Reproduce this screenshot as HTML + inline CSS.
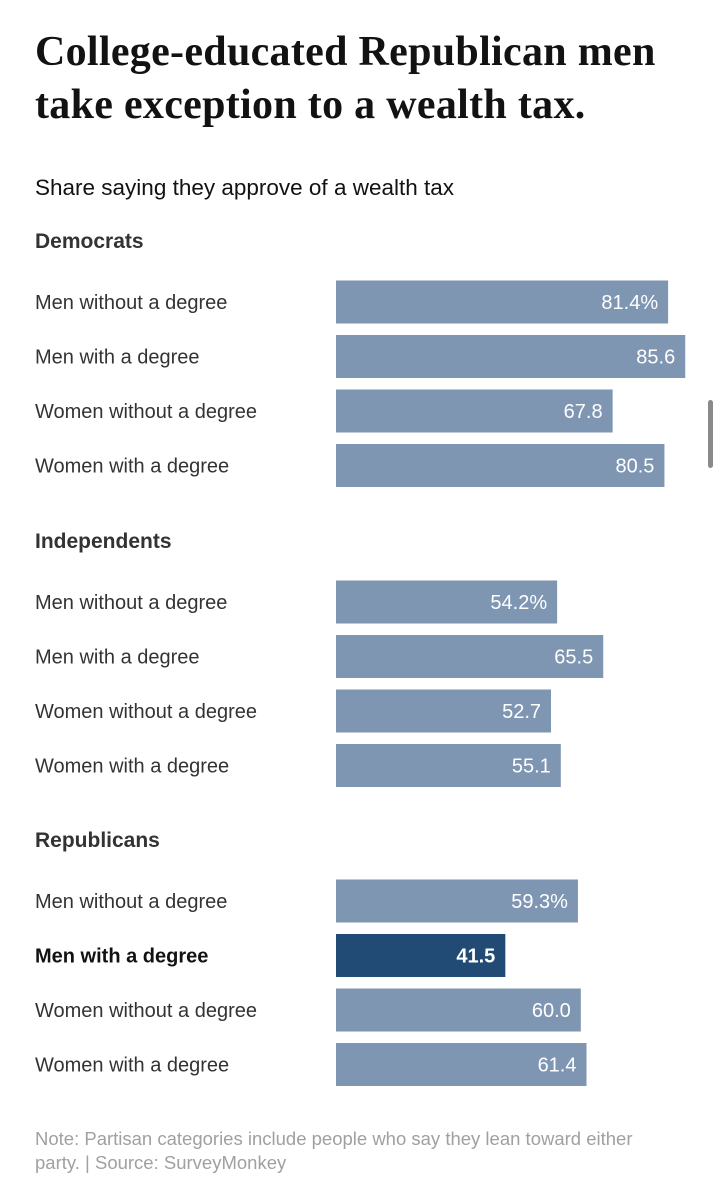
<!DOCTYPE html>
<html><head><meta charset="utf-8">
<style>
html,body{margin:0;padding:0;background:#fff;width:719px;height:1200px;overflow:hidden;}
#title{position:absolute;left:35px;top:26px;width:675px;font-family:"Liberation Serif",serif;font-weight:bold;font-size:42px;line-height:53px;color:#121212;letter-spacing:0.3px;margin:0;}
#sub{position:absolute;left:35px;top:175px;font-family:"Liberation Sans",sans-serif;font-size:22.5px;color:#121212;}
#note{position:absolute;left:35px;top:1127px;width:646px;font-family:"Liberation Sans",sans-serif;font-size:18.5px;line-height:24px;color:#a0a0a0;}
#scroll{position:absolute;left:708px;top:400px;width:5px;height:68px;border-radius:3px;background:#8a8a8a;}
svg{position:absolute;left:0;top:0;}
</style></head><body>
<h1 id="title">College-educated Republican men take exception to a wealth tax.</h1>
<div id="sub">Share saying they approve of a wealth tax</div>
<svg id="chart" width="719" height="1200"></svg>
<div id="note">Note: Partisan categories include people who say they lean toward either party. | Source: SurveyMonkey</div>
<div id="scroll"></div>
<script>
const groups = ["Democrats", "Independents", "Republicans"];
const categories = ["Men without a degree", "Men with a degree", "Women without a degree", "Women with a degree"];
const demValues = [81.4, 85.6, 67.8, 80.5];
const indValues = [54.2, 65.5, 52.7, 55.1];
const repValues = [59.3, 41.5, 60.0, 61.4];
const seriesValues = [demValues, indValues, repValues];
const highlight = [2, 1];

const svg = document.getElementById('chart');
const NS = 'http://www.w3.org/2000/svg';
const x0 = 336, pxPerUnit = 4.08;
function xScale(v){ return x0 + v * pxPerUnit; }
const groupTop = [241, 541, 840];
function rowCenter(g, i){ return groupTop[g] + 61 + i * 54.5; }

groups.forEach((gname, g) => {
  const h = document.createElementNS(NS, 'text');
  
  
  h.setAttribute('x', 35); h.setAttribute('y', groupTop[g] + 7);
  h.setAttribute('font-family', 'Liberation Sans, sans-serif');
  h.setAttribute('font-size', '21'); h.setAttribute('font-weight', 'bold');
  h.setAttribute('fill', '#333');
  h.textContent = gname;
  svg.appendChild(h);
  categories.forEach((cat, i) => {
    const v = seriesValues[g][i];
    const hl = highlight[0] === g && highlight[1] === i;
    const cy = rowCenter(g, i);
    const lab = document.createElementNS(NS, 'text');
    
    
    lab.setAttribute('x', 35); lab.setAttribute('y', cy + 7);
    lab.setAttribute('font-family', 'Liberation Sans, sans-serif');
    lab.setAttribute('font-size', '20');
    lab.setAttribute('font-weight', hl ? 'bold' : 'normal');
    lab.setAttribute('fill', hl ? '#121212' : '#333');
    lab.textContent = cat;
    svg.appendChild(lab);
    const r = document.createElementNS(NS, 'rect');
    
    
    r.setAttribute('x', x0); r.setAttribute('y', cy - 21.5);
    r.setAttribute('width', xScale(v) - x0); r.setAttribute('height', 43);
    r.setAttribute('fill', hl ? '#214a75' : '#7f96b3');
    svg.appendChild(r);
    const t = document.createElementNS(NS, 'text');
    
    
    t.setAttribute('x', xScale(v) - 10); t.setAttribute('y', cy + 7);
    t.setAttribute('text-anchor', 'end');
    t.setAttribute('font-family', 'Liberation Sans, sans-serif');
    t.setAttribute('font-size', '20');
    t.setAttribute('font-weight', hl ? 'bold' : 'normal');
    t.setAttribute('fill', '#fff');
    t.textContent = v.toFixed(1) + (i === 0 ? '%' : '');
    svg.appendChild(t);
  });
});
</script>
</body></html>
